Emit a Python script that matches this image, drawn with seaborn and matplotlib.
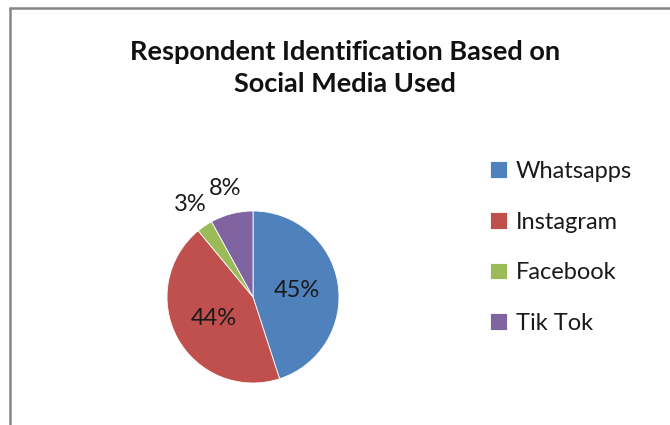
import matplotlib
matplotlib.use("Agg")
import matplotlib.pyplot as plt
from matplotlib.lines import Line2D
import seaborn as sns
import numpy as np

categories = ["Whatsapps", "Instagram", "Facebook", "Tik Tok"]
values = [45, 44, 3, 8]
label_texts = ["45%", "44%", "3%", "8%"]
colors = ["#4F81BD", "#C0504D", "#9BBB59", "#8064A2"]
title = "Respondent Identification Based on\nSocial Media Used"

sns.set_theme(style="white")
plt.rcParams["font.family"] = ["Lato", "DejaVu Sans"]

W, H = 670, 425
fig = plt.figure(figsize=(W / 100, H / 100), dpi=100)

# chart-area border (left and top visible)
border_col = "#868686"
fig.add_artist(Line2D([10 / W, 10 / W], [0, 1 - 8 / H], transform=fig.transFigure,
                      color=border_col, lw=1.8))
fig.add_artist(Line2D([10 / W, 1], [1 - 8 / H, 1 - 8 / H], transform=fig.transFigure,
                      color=border_col, lw=1.8))

cx, cy, r = 253, 297, 86
ax = fig.add_axes([(cx - r) / W, (H - cy - r) / H, 2 * r / W, 2 * r / H])
wedges, _ = ax.pie(values, colors=colors, startangle=90, counterclock=False,
                   wedgeprops=dict(linewidth=0.6, edgecolor="white"))
ax.set_xlim(-1, 1)
ax.set_ylim(-1, 1)
ax.set_aspect("equal")
ax.axis("off")

# data labels: inside for large slices, outside for small ones
for w, txt, v in zip(wedges, label_texts, values):
    mid = np.deg2rad((w.theta1 + w.theta2) / 2)
    d = 0.52 if v > 20 else 1.3
    ax.text(d * np.cos(mid), d * np.sin(mid), txt, ha="center", va="center",
            fontsize=17, color="#1a1a1a")

fig.text(345 / W, 1 - 68 / H, title, ha="center", va="center",
         fontsize=19.5, fontweight="bold", color="#111111", linespacing=1.4)

leg = fig.legend(wedges, categories, loc="upper left",
                 bbox_to_anchor=(490 / W, 1 - 161 / H), frameon=False,
                 handlelength=0.7, handleheight=0.7, handletextpad=0.4,
                 labelspacing=1.25, fontsize=17, borderpad=0, borderaxespad=0)
for t in leg.get_texts():
    t.set_color("#1a1a1a")

fig.savefig("out.png", dpi=100, facecolor="white")
